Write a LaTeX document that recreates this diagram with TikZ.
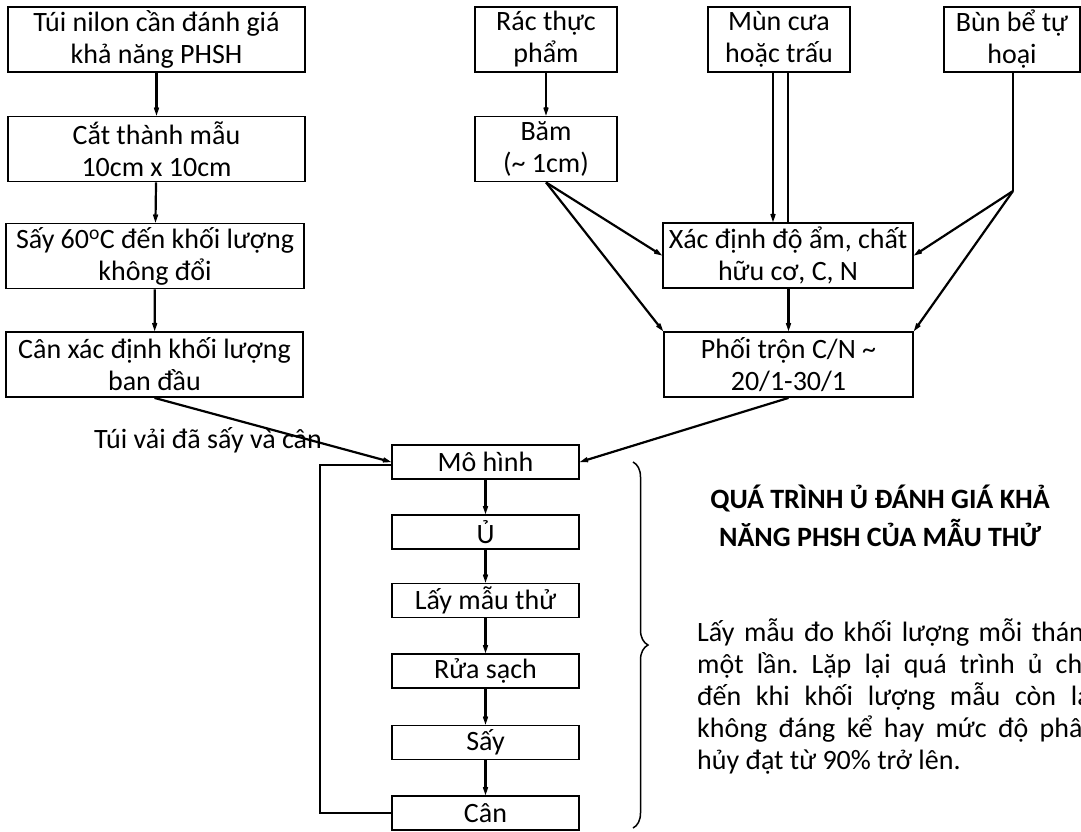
\documentclass[tikz,border=0pt]{standalone}
\usepackage{fontspec}
\setmainfont{Carlito}
\usetikzlibrary{arrows.meta, positioning, decorations.pathreplacing}
\tikzstyle{box} = [draw, line width=1.8pt, align=center, inner sep=0pt, font=\fontsize{28}{32}\selectfont]
\tikzstyle{bigbox} = [box, minimum width=297, minimum height=65]
\tikzstyle{midbox} = [box, minimum width=142, minimum height=65]
\tikzstyle{stepbox} = [box, minimum width=187, minimum height=34]
\tikzstyle{arrow} = [line width=2.2pt, -{Stealth[length=16pt, width=11pt, inset=10pt]}]
\tikzstyle{line} = [line width=2.2pt]

\begin{document}
\begin{tikzpicture}[x=1pt, y=-1pt]
            \clip (0,0) rectangle (1081,831);

            % Left column
            \node[bigbox] (tui) at (156.5,39.5) {Túi nilon cần đánh giá\\khả năng PHSH};
            \node[bigbox] (cat) at (156.5,149) {Cắt thành mẫu\\10cm x 10cm};
            \node[bigbox, minimum width=298] (say0) at (155,256) {Sấy 60\textsuperscript{o}C đến khối lượng\\không đổi};
            \node[bigbox] (can0) at (154.5,364.5) {Cân xác định khối lượng\\ban đầu};

            % Inputs
            \node[midbox] (rac) at (546,39.5) {Rác thực\\phẩm};
            \node[midbox] (bam) at (546,149) {Băm\\(\textasciitilde{} 1cm)};
            \node[midbox] (mun) at (779,39.5) {Mùn cưa\\hoặc trấu};
            \node[midbox, minimum width=136] (bun) at (1012,39.5) {Bùn bể tự\\hoại};
            \node[box, minimum width=250, minimum height=65] (xac) at (788,255.5) {Xác định độ ẩm, chất\\hữu cơ, C, N};
            \node[box, minimum width=249, minimum height=65] (phoi) at (788.5,364.5) {Phối trộn C/N \textasciitilde\\20/1-30/1};

            % Process column
            \node[stepbox] (mo) at (485.5,462) {Mô hình};
            \node[stepbox] (u) at (485.5,532) {Ủ};
            \node[stepbox] (lay) at (485.5,600.5) {Lấy mẫu thử};
            \node[stepbox] (rua) at (485.5,671) {Rửa sạch};
            \node[stepbox] (say) at (485.5,742.5) {Sấy};
            \node[stepbox] (can) at (485.5,813) {Cân};

            % Texts
            \node[font=\fontsize{28}{32}\selectfont] (lbl) at (208,440) {Túi vải đã sấy và cân};
            \node[font=\bfseries\fontsize{28}{38}\selectfont, align=center] (title) at (880,516) {QUÁ TRÌNH Ủ ĐÁNH GIÁ KHẢ\\NĂNG PHSH CỦA MẪU THỬ};
            \node[font=\fontsize{28}{32}\selectfont, text width=400, align=justify, anchor=north west, inner sep=0pt] (note) at (697,618)
                {\frenchspacing\hyphenpenalty=10000 Lấy mẫu đo khối lượng mỗi tháng\linebreak một lần. Lặp lại quá trình ủ cho\linebreak đến khi khối lượng mẫu còn lại\linebreak không đáng kể hay mức độ phân\linebreak hủy đạt từ 90\% trở lên.};

            % Left arrows
            \draw[arrow] (tui) -- (cat);
            \draw[arrow] (cat) -- (say0);
            \draw[arrow] (say0) -- (can0);
            \draw[arrow] (can0.south) -- (mo.west);

            % Input arrows
            \draw[arrow] (rac) -- (bam);
            \draw[arrow] (bam.south) -- (xac.west);
            \draw[arrow] (bam.south) -- (phoi.north west);
            \draw[arrow] ([xshift=-6pt]mun.south) -- ([xshift=-6pt]mun.south |- xac.north);
            \draw[line] ([xshift=9pt]mun.south) -- ([xshift=9pt]mun.south |- xac.north);
            \coordinate (bunj) at (1013,191);
            \draw[line] (bun.south -| bunj) -- (bunj);
            \draw[arrow] (bunj) -- (xac.east);
            \draw[arrow] (bunj) -- (phoi.north east);
            \draw[arrow] (xac.south -| phoi.north) -- (phoi.north);
            \draw[arrow] (phoi.south) -- (mo.east);

            % Process arrows
            \foreach \a/\b in {mo/u, u/lay, lay/rua, rua/say, say/can}
                \draw[arrow] (\a) -- (\b);
            \draw[line] (can.west) -- ++(-71,0) |- ([yshift=-3pt]mo.west);

            % Brace
            \coordinate (bracetop) at (633,462);
            \coordinate (bracebot) at (633,828);
            \draw[line width=1.5pt, decorate, decoration={brace, amplitude=15pt}] (bracetop) -- (bracebot);
\end{tikzpicture}
\end{document}
